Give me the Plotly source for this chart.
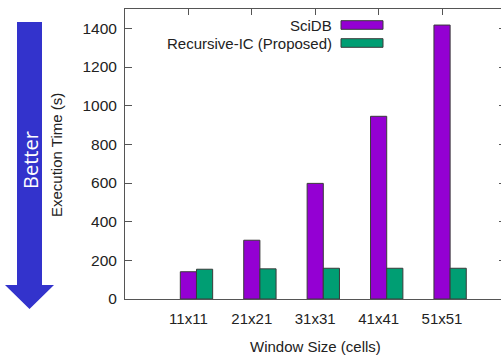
import plotly.graph_objects as go

categories = ["11x11", "21x21", "31x31", "41x41", "51x51"]
series_names = ["SciDB", "Recursive-IC (Proposed)"]
scidb = [141, 304, 598, 945, 1417]
recursive = [154, 156, 159, 159, 159]
y_ticks = [0, 200, 400, 600, 800, 1000, 1200, 1400]

colors = ["#9400d3", "#009e73"]
W, H = 501, 356
ML, MR, MT, MB = 125, 0, 9, 57
PW, PH = W - ML - MR, H - MT - MB

def px(x):
    return (x - ML) / PW

def py(y):
    return (H - MB - y) / PH

bar_w = 0.255
xpos = list(range(len(categories)))
FONT = "Liberation Sans, Arial, sans-serif"

fig = go.Figure()
fig.add_trace(go.Bar(x=[p for p in xpos], y=scidb, width=bar_w, name=series_names[0],
                     marker=dict(color=colors[0], line=dict(color="#3a3a3a", width=1)),
                     showlegend=False))
fig.add_trace(go.Bar(x=[p + bar_w for p in xpos], y=recursive, width=bar_w, name=series_names[1],
                     marker=dict(color=colors[1], line=dict(color="#3a3a3a", width=1)),
                     showlegend=False))
fig.add_trace(go.Scatter(x=[None], y=[None], yaxis="y2", showlegend=False, hoverinfo="skip"))

axis_col = "#555555"
fig.update_layout(
    width=W, height=H,
    margin=dict(l=ML, r=MR, t=MT, b=MB, pad=0),
    plot_bgcolor="white", paper_bgcolor="white",
    barmode="overlay",
    font=dict(family=FONT, size=15, color="#222222"),
    xaxis=dict(range=[-1, 4.93], tickvals=xpos, ticktext=categories,
               showline=True, linecolor=axis_col, linewidth=1, mirror="ticks",
               ticks="inside", ticklen=6, tickcolor=axis_col, showgrid=False,
               zeroline=False, layer="below traces", ticklabelstandoff=6),
    yaxis=dict(range=[0, 1500], tickvals=y_ticks, showline=True, linecolor=axis_col,
               linewidth=1, mirror=True, ticks="inside", ticklen=7, tickcolor=axis_col,
               showgrid=False, zeroline=False, layer="below traces", ticklabelstandoff=4,
               tickfont=dict(size=15.5)),
    yaxis2=dict(range=[0, 1500], tickvals=y_ticks, overlaying="y", side="right",
                showline=False, ticks="inside", ticklen=2, tickcolor=axis_col,
                showticklabels=False, showgrid=False, zeroline=False),
)

# Axis titles
fig.add_annotation(text="Window Size (cells)", x=px(315.7), y=py(346), xref="paper", yref="paper",
                   showarrow=False, xanchor="center", yanchor="middle", font=dict(size=15))
fig.add_annotation(text="Execution Time (s)", x=px(56), y=py(155), xref="paper", yref="paper",
                   showarrow=False, xanchor="center", yanchor="middle", textangle=-90,
                   font=dict(size=15))

# Legend (text right of which sits the swatch)
for i, (name, col) in enumerate(zip(series_names, colors)):
    yc = 25 + 18 * i
    fig.add_annotation(text=name, x=px(334), y=py(yc), xref="paper", yref="paper",
                       showarrow=False, xanchor="right", yanchor="middle", font=dict(size=15))
    fig.add_shape(type="rect", xref="paper", yref="paper",
                  x0=px(341), x1=px(383), y0=py(yc - 4.3), y1=py(yc + 4.3),
                  fillcolor=col, line=dict(color="#3a3a3a", width=1))

# "Better" arrow
path = "M {},{} L {},{} L {},{} L {},{} L {},{} L {},{} L {},{} Z".format(
    px(17), py(22), px(42), py(22), px(42), py(285), px(54), py(285),
    px(29.5), py(309), px(5), py(285), px(17), py(285))
fig.add_shape(type="path", path=path, xref="paper", yref="paper",
              fillcolor="#3333cc", line=dict(width=0))
fig.add_annotation(text="Better", x=px(30), y=py(160), xref="paper", yref="paper",
                   showarrow=False, xanchor="center", yanchor="middle", textangle=-90,
                   font=dict(family="Open Sans, sans-serif", size=20, color="white"))

fig.write_html("out.html", config={"displayModeBar": False},
               post_script="document.body.style.margin='0';document.body.style.padding='0';")
